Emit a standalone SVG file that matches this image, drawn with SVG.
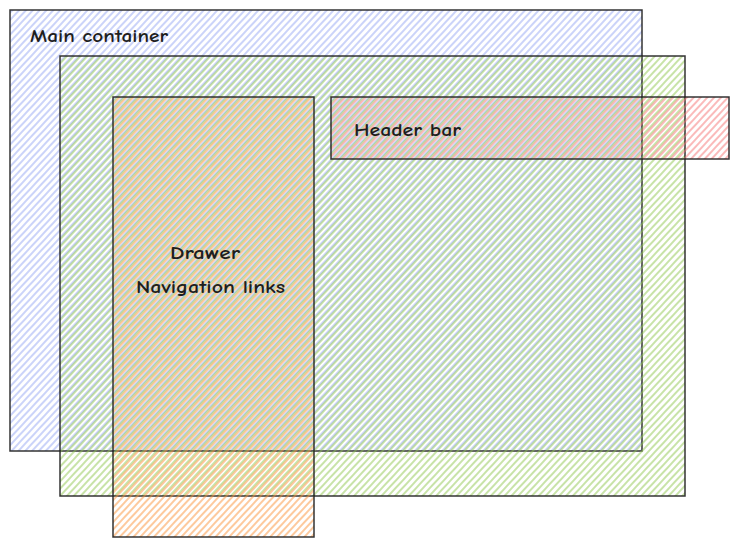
<svg xmlns="http://www.w3.org/2000/svg" width="740" height="547" viewBox="0 0 740 547">
<defs>
<pattern id="hBlue" x="0" width="5" height="5" patternUnits="userSpaceOnUse" patternTransform="rotate(43)"><line x1="1" y1="0" x2="1" y2="5" stroke="#95a6f2" stroke-width="1.1"/></pattern>
<pattern id="hGreen" x="1.2" width="5" height="5" patternUnits="userSpaceOnUse" patternTransform="rotate(43)"><line x1="1" y1="0" x2="1" y2="5" stroke="#8fc64e" stroke-width="1.1"/></pattern>
<pattern id="hOrange" x="2.8" width="5" height="5" patternUnits="userSpaceOnUse" patternTransform="rotate(43)"><line x1="1" y1="0" x2="1" y2="5" stroke="#fc9238" stroke-width="1.1"/></pattern>
<pattern id="hRed" x="2.8" width="5" height="5" patternUnits="userSpaceOnUse" patternTransform="rotate(43)"><line x1="1" y1="0" x2="1" y2="5" stroke="#f67474" stroke-width="1.1"/></pattern>
</defs>
<style>
.box{stroke:#1e1e1e;stroke-width:1.5;stroke-opacity:0.9;fill-opacity:0.9;}
.lbl{font-family:"Comic Neue","Liberation Sans",sans-serif;font-size:18px;font-weight:bold;fill:#1e1e1e;}
</style>
<rect width="740" height="547" fill="#ffffff"/>
<g id="main-container">
<rect class="box" x="10" y="10" width="632" height="441" fill="url(#hBlue)"/>
</g>
<g id="content">
<rect class="box" x="60" y="56" width="625" height="440" fill="url(#hGreen)"/>
</g>
<g id="drawer">
<rect class="box" x="113" y="97" width="201" height="440" fill="url(#hOrange)"/>
</g>
<g id="header-bar">
<rect class="box" x="331" y="97" width="398" height="62" fill="url(#hRed)"/>
</g>
<g id="connectors"></g>
<g id="labels">
<text class="lbl" x="30" y="42" textLength="138" lengthAdjust="spacingAndGlyphs">Main container</text>
<text class="lbl" x="354" y="136" textLength="107" lengthAdjust="spacingAndGlyphs">Header bar</text>
<text class="lbl" x="170" y="259" textLength="70" lengthAdjust="spacingAndGlyphs">Drawer</text>
<text class="lbl" x="136" y="293" textLength="149" lengthAdjust="spacingAndGlyphs">Navigation links</text>
</g>
</svg>
